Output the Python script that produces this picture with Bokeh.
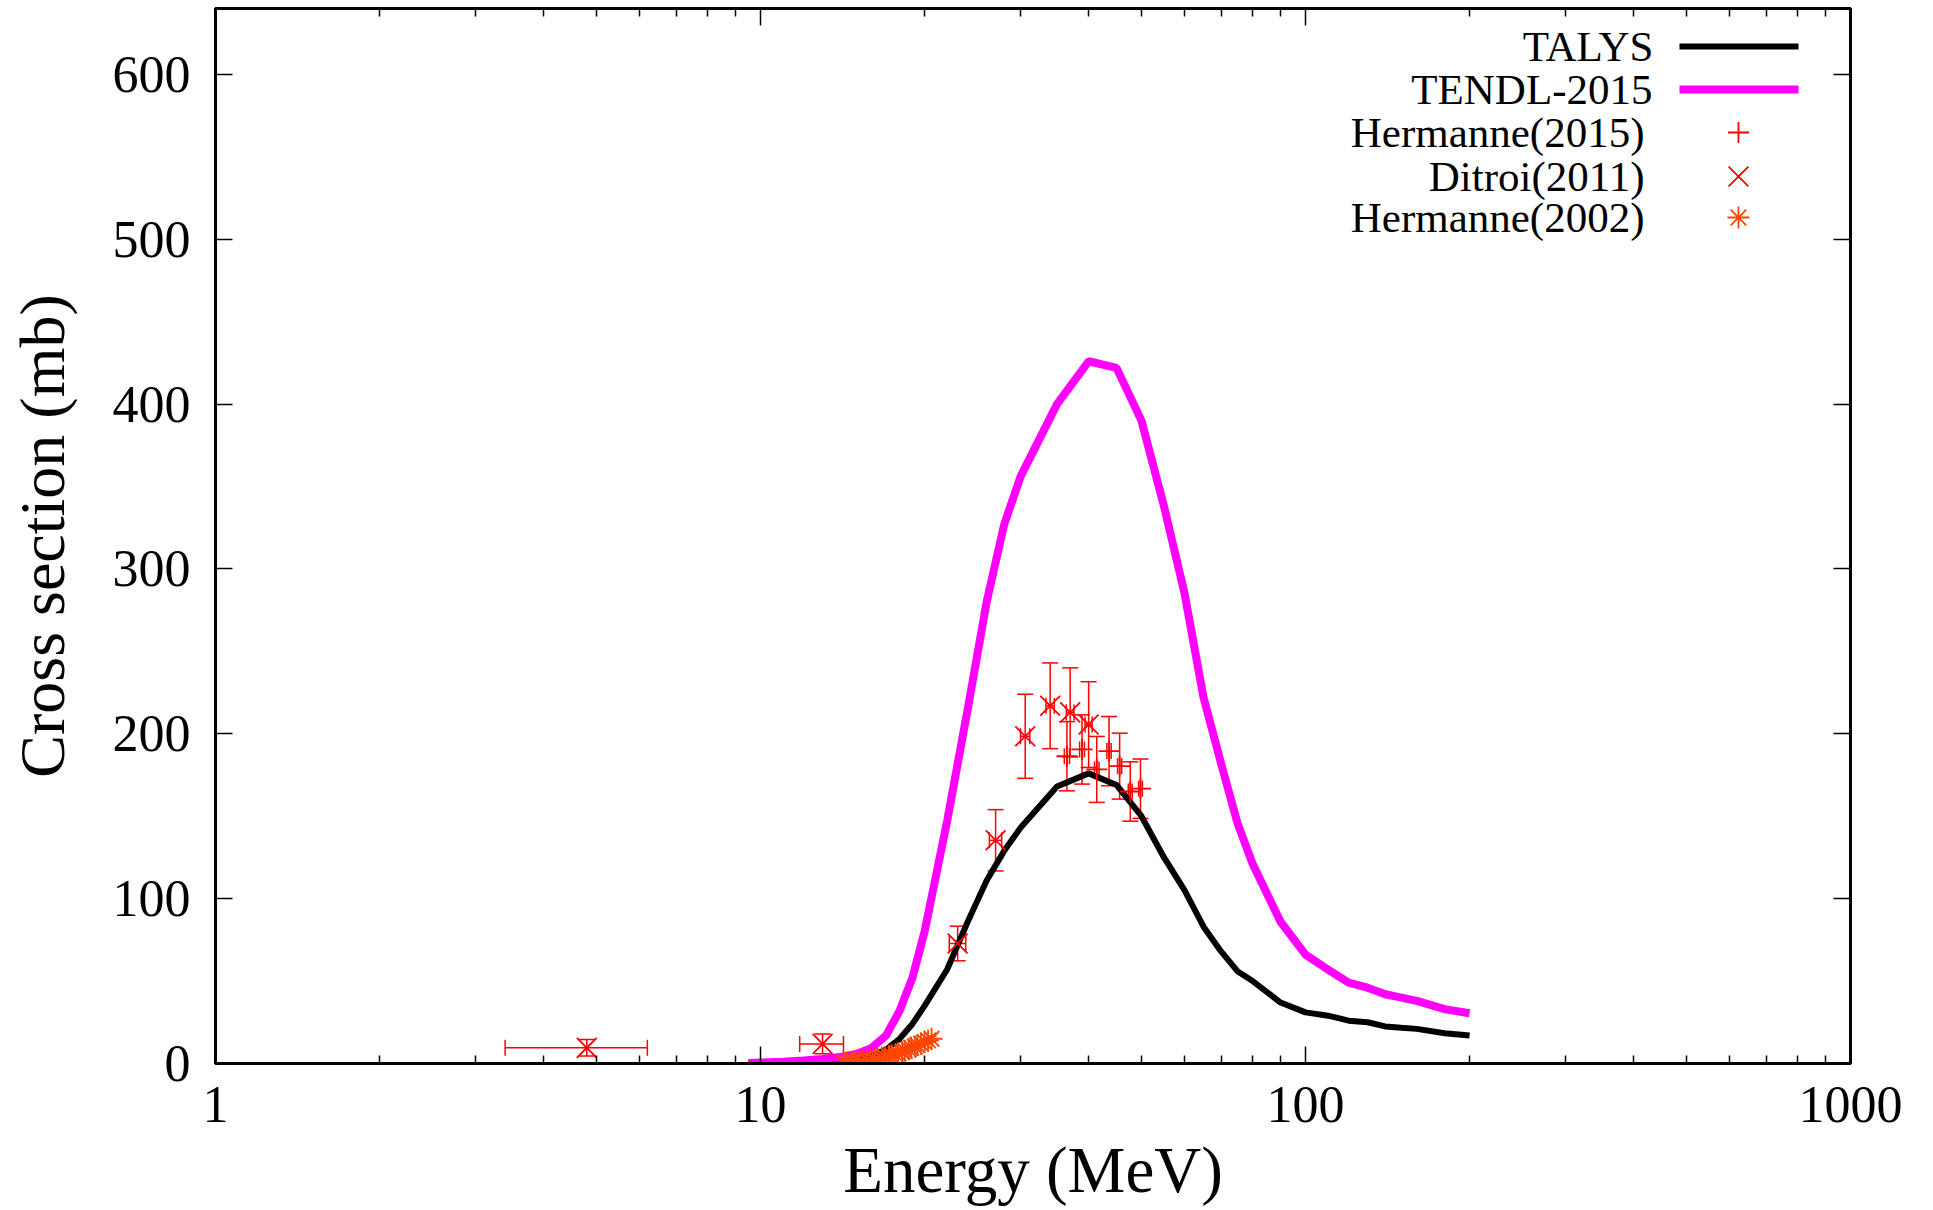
from bokeh.plotting import figure
from bokeh.models import (Range1d, LinearAxis, LogAxis, FixedTicker, Whisker,
                          TeeHead, ColumnDataSource, Label, CustomJSTickFormatter)
from bokeh.embed import file_html
from bokeh.resources import INLINE
import math

# ---------------- data ----------------
talys_e = [9.5, 10, 11, 12, 13, 14, 15, 16, 17, 18, 19, 20, 22, 24, 26, 28, 30, 35, 40,
           45, 50, 55, 60, 65, 70, 75, 80, 90, 100, 110, 120, 130, 140, 150, 160, 180, 200]
talys_xs = [0.2, 0.4, 0.8, 1.3, 1.8, 2.3, 2.9, 4.5, 8.5, 15, 24, 35, 57, 86, 111, 129, 143,
            168, 176, 169, 150, 125, 105, 83, 68, 56, 50, 37, 31, 29, 26, 25, 22.5, 21.7,
            21, 18.4, 17]

tendl_e = [9.5, 10, 11, 12, 13, 14, 15, 16, 17, 18, 19, 20, 22, 24, 26, 28, 30, 35, 40,
           45, 50, 55, 60, 65, 70, 75, 80, 90, 100, 110, 120, 130, 140, 150, 160, 180, 200]
tendl_xs = [0.3, 0.6, 1.1, 1.8, 2.7, 3.9, 5.8, 9.5, 17, 32, 52, 80, 147, 215, 280, 327, 356,
            400, 426, 422, 390, 338, 285, 222, 182, 146, 121, 86, 66, 57, 49, 46, 42, 40,
            38, 33, 30.5]

herm2015_e = [36.5, 38.9, 41.4, 43.6, 45.6, 47.7, 49.8]
herm2015_de = [0.4, 0.4, 0.4, 0.4, 0.4, 0.4, 0.4]
herm2015_xs = [186.4, 190.5, 178.4, 189.5, 180.4, 165.0, 166.7]
herm2015_dxs = [21, 21, 20, 21, 20, 18, 18]

ditroi_e = [4.8, 13.0, 23.0, 27.0, 30.6, 34.0, 37.0, 40.0]
ditroi_de = [1.4, 1.2, 0.8, 0.7, 0.6, 0.6, 0.6, 0.6]
ditroi_xs = [9.5, 11.9, 72.8, 135.4, 198.5, 217.0, 213.0, 205.6]
ditroi_dxs = [5, 6, 10.5, 18.6, 25.5, 26, 27, 26]

herm2002_e = [14.2, 14.4, 14.7, 14.9, 15.2, 15.4, 15.7, 15.9, 16.2, 16.4, 16.7, 16.9, 17.2,
              17.4, 17.7, 17.9, 18.2, 18.4, 18.7, 18.9, 19.2, 19.4, 19.7, 20.0, 20.3, 20.6]
herm2002_xs = [0.5, 0.6, 0.8, 1.0, 1.2, 1.5, 1.8, 2.2, 2.6, 3.0, 3.5, 4.0, 4.5, 5.0, 5.6,
               6.2, 7.0, 7.8, 8.6, 9.5, 10.3, 11.2, 12.0, 13.0, 14.0, 15.0]
herm2002_dxs = [0.3, 0.3, 0.4, 0.4, 0.5, 0.5, 0.6, 0.6, 0.7, 0.7, 0.8, 0.8, 0.9, 0.9, 1.0,
                1.0, 1.1, 1.1, 1.2, 1.2, 1.3, 1.3, 1.4, 1.4, 1.5, 1.5]

x_major = [1, 10, 100, 1000]
x_minor = [2, 3, 4, 5, 6, 7, 8, 9, 20, 30, 40, 50, 60, 70, 80, 90,
           200, 300, 400, 500, 600, 700, 800, 900]
y_major = [0, 100, 200, 300, 400, 500, 600]

legend_labels = ["TALYS", "TENDL-2015", "Hermanne(2015)", "Ditroi(2011)", "Hermanne(2002)"]

# ---------------- layout ----------------
FONT = "Liberation Serif"
W, H = 1930, 1210
FL, FR, FT, FB = 215, 1850, 8, 1063  # frame edges in page pixels
XMIN, XMAX, YMIN, YMAX = 1, 1000, 0, 640

RED = "#ff0000"
ORANGE = "#ff4500"
MAGENTA = "#ff00ff"

p = figure(width=W, height=H, x_axis_type="log",
           x_range=Range1d(XMIN, XMAX), y_range=Range1d(YMIN, YMAX),
           output_backend="svg", toolbar_location=None,
           min_border_left=FL, min_border_right=W - FR,
           min_border_top=FT, min_border_bottom=H - FB)
p.grid.visible = False
p.outline_line_color = "black"
p.outline_line_width = 3
p.background_fill_color = "white"
p.border_fill_color = "white"


def dx(px):
    return 10 ** (math.log10(XMIN) + (px - FL) / (FR - FL) * (math.log10(XMAX) - math.log10(XMIN)))


def dy(py):
    return YMIN + (FB - py) / (FB - FT) * (YMAX - YMIN)


def style_axis(ax, labels=True):
    ax.axis_line_width = 3
    ax.axis_line_color = "black"
    ax.major_tick_in = 17
    ax.major_tick_out = 0
    ax.minor_tick_in = 8
    ax.minor_tick_out = 0
    ax.major_tick_line_width = 1.5
    ax.minor_tick_line_width = 1.5
    ax.major_label_text_font = FONT
    ax.axis_label_text_font = FONT
    ax.axis_label_text_font_style = "normal"
    ax.axis_label_text_color = "black"
    ax.major_label_text_color = "black"
    if not labels:
        ax.formatter = CustomJSTickFormatter(code="return '';")
        ax.major_label_standoff = 0


xa = p.xaxis[0]
xa.ticker = FixedTicker(ticks=x_major, minor_ticks=x_minor)
style_axis(xa)
xa.major_label_text_font_size = "52px"
xa.major_label_standoff = 23
xa.axis_label = "Energy (MeV)"
xa.axis_label_text_font_size = "65px"
xa.axis_label_standoff = 9
xa.major_label_overrides = {1: "1", 10: "10", 100: "100", 1000: "1000"}

ya = p.yaxis[0]
ya.ticker = FixedTicker(ticks=y_major, minor_ticks=[])
style_axis(ya)
ya.major_label_text_font_size = "52px"
ya.major_label_standoff = 25
ya.axis_label = "Cross section (mb)"
ya.axis_label_text_font_size = "64px"
ya.axis_label_standoff = 32

top = LogAxis(ticker=FixedTicker(ticks=x_major, minor_ticks=x_minor))
style_axis(top, labels=False)
p.add_layout(top, "above")
right = LinearAxis(ticker=FixedTicker(ticks=y_major, minor_ticks=[]))
style_axis(right, labels=False)
p.add_layout(right, "right")

# ---------------- curves ----------------
p.line(talys_e, talys_xs, line_color="black", line_width=6)
p.line(tendl_e, tendl_xs, line_color=MAGENTA, line_width=8)


def errbars(e, de, xs, dxs, color):
    src = ColumnDataSource(dict(
        x=e, y=xs,
        xl=[a - b for a, b in zip(e, de)], xu=[a + b for a, b in zip(e, de)],
        yl=[a - b for a, b in zip(xs, dxs)], yu=[a + b for a, b in zip(xs, dxs)]))
    for dim, base, lo, hi in (("height", "x", "yl", "yu"), ("width", "y", "xl", "xu")):
        w = Whisker(source=src, base=base, lower=lo, upper=hi, dimension=dim,
                    line_color=color, line_width=1.5,
                    lower_head=TeeHead(size=16, line_color=color, line_width=1.5),
                    upper_head=TeeHead(size=16, line_color=color, line_width=1.5))
        p.add_layout(w)
    return src


s15 = errbars(herm2015_e, herm2015_de, herm2015_xs, herm2015_dxs, RED)
p.scatter("x", "y", source=s15, marker="cross", size=21, line_color=RED, line_width=1.8)
sd = errbars(ditroi_e, ditroi_de, ditroi_xs, ditroi_dxs, RED)
p.scatter("x", "y", source=sd, marker="x", size=28, line_color=RED, line_width=1.8)

s02 = ColumnDataSource(dict(x=herm2002_e, y=herm2002_xs,
                            yl=[a - b for a, b in zip(herm2002_xs, herm2002_dxs)],
                            yu=[a + b for a, b in zip(herm2002_xs, herm2002_dxs)]))
p.add_layout(Whisker(source=s02, base="x", lower="yl", upper="yu", dimension="height",
                     line_color=ORANGE, line_width=1.5,
                     lower_head=TeeHead(size=10, line_color=ORANGE, line_width=1.5),
                     upper_head=TeeHead(size=10, line_color=ORANGE, line_width=1.5)))
p.scatter("x", "y", source=s02, marker="asterisk", size=22, line_color=ORANGE, line_width=1.8)

# ---------------- legend (gnuplot style: text right, sample left) ----------------
rows_y = [46, 89, 132, 176, 217]
text_right = [1653, 1652, 1644, 1644, 1644]
samp_l, samp_r, samp_c = 1679, 1798, 1738
for lab, ry, tr in zip(legend_labels, rows_y, text_right):
    p.add_layout(Label(x=dx(tr), y=dy(ry), text=lab, text_align="right",
                       text_baseline="middle", text_font=FONT, text_font_size="43px",
                       text_color="black"))
p.line([dx(samp_l), dx(samp_r)], [dy(rows_y[0])] * 2, line_color="black", line_width=6)
p.line([dx(samp_l), dx(samp_r)], [dy(rows_y[1])] * 2, line_color=MAGENTA, line_width=8)
p.scatter([dx(samp_c)], [dy(rows_y[2])], marker="cross", size=21, line_color=RED, line_width=1.8)
p.scatter([dx(samp_c)], [dy(rows_y[3])], marker="x", size=28, line_color=RED, line_width=1.8)
p.scatter([dx(samp_c)], [dy(rows_y[4])], marker="asterisk", size=22, line_color=ORANGE, line_width=1.8)

open("out.html", "w").write(file_html(p, INLINE))
